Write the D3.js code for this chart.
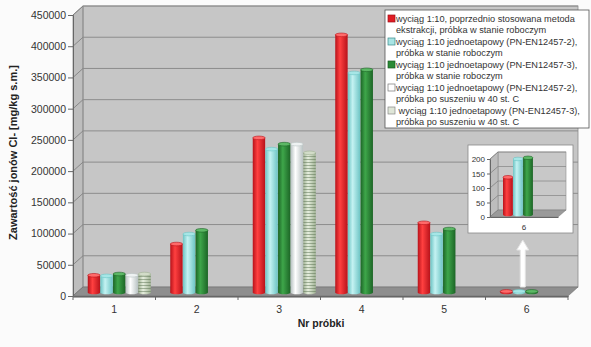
<!DOCTYPE html>
<html><head><meta charset="utf-8">
<script src="https://cdn.jsdelivr.net/npm/d3@7/dist/d3.min.js"></script>
<style>body{margin:0;background:#fbfbfb}svg{display:block;font-family:"Liberation Sans",Arial,sans-serif}</style>
</head><body><svg id="c" width="591" height="347"></svg>
<script>
const categories = ["1","2","3","4","5","6"];
const seriesKeys = ["s1","s2","s3","s4","s5"];
const seriesNames = [
  ["wyciąg 1:10, poprzednio stosowana metoda","ekstrakcji, próbka w stanie roboczym"],
  ["wyciąg 1:10 jednoetapowy (PN-EN12457-2),","próbka w stanie roboczym"],
  ["wyciąg 1:10 jednoetapowy (PN-EN12457-3),","próbka w stanie roboczym"],
  ["wyciąg 1:10 jednoetapowy (PN-EN12457-2),","próbka po suszeniu w 40 st. C"],
  [" wyciąg 1:10 jednoetapowy (PN-EN12457-3),","próbka po suszeniu w 40 st. C"]
];
const s1 = [26000, 76000, 246000, 411000, 110000, 125];
const s2 = [25000, 92000, 228000, 350000, 92000, 188];
const s3 = [28000, 98000, 236000, 355000, 100000, 192];
const s4 = [26000, null, 236000, null, null, null];
const s5 = [28000, null, 222000, null, null, null];
const yTicks = [0,50000,100000,150000,200000,250000,300000,350000,400000,450000];
const insetCategory = ["6"];
const insetTicks = [0,50,100,150,200];
const yTitle = "Zawartość jonów Cl- [mg/kg s.m.]";
const xTitle = "Nr próbki";

const seriesValues = [s1,s2,s3,s4,s5];
const styles = [
  {dark:"#b8121a", light:"#ff4040", top:"#ff6a6a", sw:"#e01c24", swStroke:"#a01018"},
  {dark:"#6cc4c4", light:"#c4f2f2", top:"#a6e6e6", sw:"#a8e4e4", swStroke:"#3a8a8a"},
  {dark:"#1c6526", light:"#3ea64a", top:"#5cb865", sw:"#2a8a36", swStroke:"#1a5a22"},
  {dark:"#b8c2c2", light:"#ffffff", top:"#eef2f2", sw:"#ffffff", swStroke:"#777"},
  {dark:"#a0b294", light:"#e6eede", top:"#d2dcc8", sw:"#dfe6d8", swStroke:"#888", pattern:true}
];

const svg = d3.select("#c");
const defs = svg.append("defs");
styles.forEach((s,i)=>{
  const g = defs.append("linearGradient").attr("id","g"+i).attr("x1","0").attr("x2","1").attr("y1","0").attr("y2","0");
  g.append("stop").attr("offset","0").attr("stop-color",s.dark);
  g.append("stop").attr("offset","0.38").attr("stop-color",s.light);
  g.append("stop").attr("offset","1").attr("stop-color",s.dark);
});
const pat = defs.append("pattern").attr("id","stripes").attr("width",4).attr("height",3).attr("patternUnits","userSpaceOnUse");
pat.append("rect").attr("x",0).attr("y",0).attr("width",4).attr("height",1).attr("fill","rgba(80,105,70,0.45)");

// ---------- main chart ----------
const dx = 10, dy = -9;
const x = d3.scaleBand().domain(categories).range([73, 568]);
const y = d3.scaleLinear().domain([0,450000]).range([296, 15]);
const groupW = 63;
const xs = d3.scaleBand().domain(seriesKeys).range([0, groupW]).paddingInner(0.02);
const x0 = 73, x1 = 568;

svg.append("rect").attr("x",x0+dx).attr("y",y(450000)+dy).attr("width",x1-x0).attr("height",y(0)-y(450000))
  .attr("fill","#c6c6c6");
svg.append("path").attr("d",`M${x0},${y(0)}L${x0},${y(450000)}L${x0+dx},${y(450000)+dy}L${x0+dx},${y(0)+dy}Z`)
  .attr("fill","#bdbdbd").attr("stroke","#8a8a8a").attr("stroke-width",0.8);
svg.append("g").selectAll("line").data(yTicks.slice(1)).join("line")
  .attr("x1",x0+dx).attr("x2",x1+dx).attr("y1",d=>y(d)+dy).attr("y2",d=>y(d)+dy)
  .attr("stroke","#8c8c8c").attr("stroke-width",1);
svg.append("g").selectAll("line").data(yTicks).join("line")
  .attr("x1",x0).attr("x2",x0+dx).attr("y1",d=>y(d)).attr("y2",d=>y(d)+dy)
  .attr("stroke","#7a7a7a").attr("stroke-width",0.8);
svg.append("rect").attr("x",x0+dx).attr("y",y(450000)+dy).attr("width",x1-x0).attr("height",y(0)-y(450000))
  .attr("fill","none").attr("stroke","#8c8c8c").attr("stroke-width",0.8);
svg.append("path").attr("d",`M${x0},${y(0)}L${x1},${y(0)}L${x1+dx},${y(0)+dy}L${x0+dx},${y(0)+dy}Z`)
  .attr("fill","#8e8e8e").attr("stroke","#6e6e6e").attr("stroke-width",0.6);
svg.append("path").attr("d",`M${x0},${y(0)}L${x1},${y(0)}L${x1},${y(0)+2}L${x0},${y(0)+2}Z`).attr("fill","#a8a8a8");

function cylinder(g, bx, w, yTop, yBot, si){
  const s = styles[si];
  const cx = bx + w/2, ry = 1.8;
  g.append("ellipse").attr("cx",cx).attr("cy",yBot).attr("rx",w/2).attr("ry",ry).attr("fill",`url(#g${si})`);
  g.append("rect").attr("x",bx).attr("y",yTop).attr("width",w).attr("height",Math.max(0,yBot-yTop)).attr("fill",`url(#g${si})`);
  if (s.pattern) g.append("rect").attr("x",bx).attr("y",yTop).attr("width",w).attr("height",Math.max(0,yBot-yTop)).attr("fill","url(#stripes)");
  g.append("ellipse").attr("cx",cx).attr("cy",yTop).attr("rx",w/2).attr("ry",ry).attr("fill",s.top).attr("stroke",s.dark).attr("stroke-width",0.6);
}

const bars = svg.append("g");
categories.forEach((c,ci)=>{
  const gx = x(c) + (x.bandwidth()-groupW)/2 + dx/2;
  seriesValues.forEach((vals,si)=>{
    const v = vals[ci];
    if (v == null) return;
    cylinder(bars, gx + xs(seriesKeys[si]), xs.bandwidth(), y(v)+dy/2, y(0)+dy/2+1, si);
  });
});

const yAxis = d3.axisLeft(y).tickValues(yTicks).tickSize(5).tickPadding(2).tickFormat(d3.format("d"));
const ya = svg.append("g").attr("transform",`translate(${x0},0)`).call(yAxis);
ya.select(".domain").attr("stroke","#666");
ya.selectAll(".tick line").attr("stroke","#666");
ya.selectAll("text").attr("font-size","10.5px").attr("fill","#333");

const xAxis = d3.axisBottom(x).tickSize(0).tickPadding(10);
const xa = svg.append("g").attr("transform",`translate(0,${y(0)})`).call(xAxis);
xa.select(".domain").attr("stroke","#666");
xa.selectAll("text").attr("font-size","10.5px").attr("fill","#333");
svg.append("g").selectAll("line").data(categories.concat(["end"])).join("line")
  .attr("x1",d=>d==="end"?x1:x(d)).attr("x2",d=>d==="end"?x1:x(d))
  .attr("y1",y(0)).attr("y2",y(0)+4).attr("stroke","#666");

svg.append("text").attr("transform",`translate(17,${(y(0)+y(450000))/2-3}) rotate(-90)`)
  .attr("text-anchor","middle").attr("font-size","11px").attr("font-weight","bold").attr("fill","#222").text(yTitle);
svg.append("text").attr("x",321).attr("y",327).attr("text-anchor","middle")
  .attr("font-size","10.5px").attr("font-weight","bold").attr("fill","#222").text(xTitle);

const ax = x("6") + x.bandwidth()/2 - 4;
const aTop = 240, aBot = y(0)+dy;
svg.append("path").attr("d",`M${ax-2.5},${aBot}L${ax-2.5},${aTop+10}L${ax-6},${aTop+10}L${ax},${aTop}L${ax+6},${aTop+10}L${ax+2.5},${aTop+10}L${ax+2.5},${aBot}Z`)
  .attr("fill","#ffffff").attr("stroke","#e4e4e4").attr("stroke-width",1);

const lg = svg.append("g");
lg.append("rect").attr("x",385).attr("y",10).attr("width",204).attr("height",118).attr("fill","#fff").attr("stroke","#555").attr("stroke-width",0.8);
seriesNames.forEach((lines,i)=>{
  const yy = 18.5 + i*23;
  lg.append("rect").attr("x",388).attr("y",yy-3.5).attr("width",7).attr("height",7)
    .attr("fill",styles[i].sw).attr("stroke",styles[i].swStroke).attr("stroke-width",0.7);
  lg.append("text").attr("x",396).attr("y",yy).attr("dy","0.35em").attr("font-size","9.2px").attr("fill","#333")
    .attr("xml:space","preserve").style("white-space","pre").text(lines[0]);
  lg.append("text").attr("x",396).attr("y",yy+11.4).attr("dy","0.35em").attr("font-size","9.2px").attr("fill","#333").text(lines[1]);
});

const ins = svg.append("g");
ins.append("rect").attr("x",468).attr("y",145).attr("width",105).attr("height",88).attr("fill","#fff").attr("stroke","#888").attr("stroke-width",0.8);
const idx = 8, idy = -7;
const xi = d3.scaleBand().domain(insetCategory).range([490, 558]);
const yi = d3.scaleLinear().domain([0,200]).range([217, 159]);
const ix0 = 490, ix1 = 558;
ins.append("rect").attr("x",ix0+idx).attr("y",yi(200)+idy).attr("width",ix1-ix0).attr("height",yi(0)-yi(200)).attr("fill","#c8c8c8").attr("stroke","#8c8c8c").attr("stroke-width",0.6);
ins.append("path").attr("d",`M${ix0},${yi(0)}L${ix0},${yi(200)}L${ix0+idx},${yi(200)+idy}L${ix0+idx},${yi(0)+idy}Z`).attr("fill","#bdbdbd").attr("stroke","#8a8a8a").attr("stroke-width",0.6);
ins.append("g").selectAll("line").data(insetTicks.slice(1)).join("line")
  .attr("x1",ix0+idx).attr("x2",ix1+idx).attr("y1",d=>yi(d)+idy).attr("y2",d=>yi(d)+idy).attr("stroke","#8c8c8c").attr("stroke-width",0.8);
ins.append("g").selectAll("line").data(insetTicks).join("line")
  .attr("x1",ix0).attr("x2",ix0+idx).attr("y1",d=>yi(d)).attr("y2",d=>yi(d)+idy).attr("stroke","#7a7a7a").attr("stroke-width",0.7);
ins.append("path").attr("d",`M${ix0},${yi(0)}L${ix1},${yi(0)}L${ix1+idx},${yi(0)+idy}L${ix0+idx},${yi(0)+idy}Z`).attr("fill","#9a9a9a").attr("stroke","#777").attr("stroke-width",0.5);
const igW = 50;
const xsi = d3.scaleBand().domain(seriesKeys).range([0, igW]).paddingInner(0.02);
insetCategory.forEach(c=>{
  const ci = categories.indexOf(c);
  const gx = xi(c) + (xi.bandwidth()-igW)/2 + idx/2;
  seriesValues.forEach((vals,si)=>{
    const v = vals[ci];
    if (v == null) return;
    cylinder(ins, gx + xsi(seriesKeys[si]), xsi.bandwidth(), yi(v)+idy/2, yi(0)+idy/2+1, si);
  });
});
const iya = ins.append("g").attr("transform",`translate(${ix0},0)`).call(d3.axisLeft(yi).tickValues(insetTicks).tickSize(3).tickPadding(2));
iya.select(".domain").attr("stroke","#666");
iya.selectAll(".tick line").attr("stroke","#666");
iya.selectAll("text").attr("font-size","8px").attr("fill","#333");
const ixa = ins.append("g").attr("transform",`translate(0,${yi(0)})`).call(d3.axisBottom(xi).tickSize(0).tickPadding(7));
ixa.select(".domain").attr("stroke","#666");
ixa.selectAll("text").attr("font-size","8px").attr("fill","#333");
</script></body></html>
